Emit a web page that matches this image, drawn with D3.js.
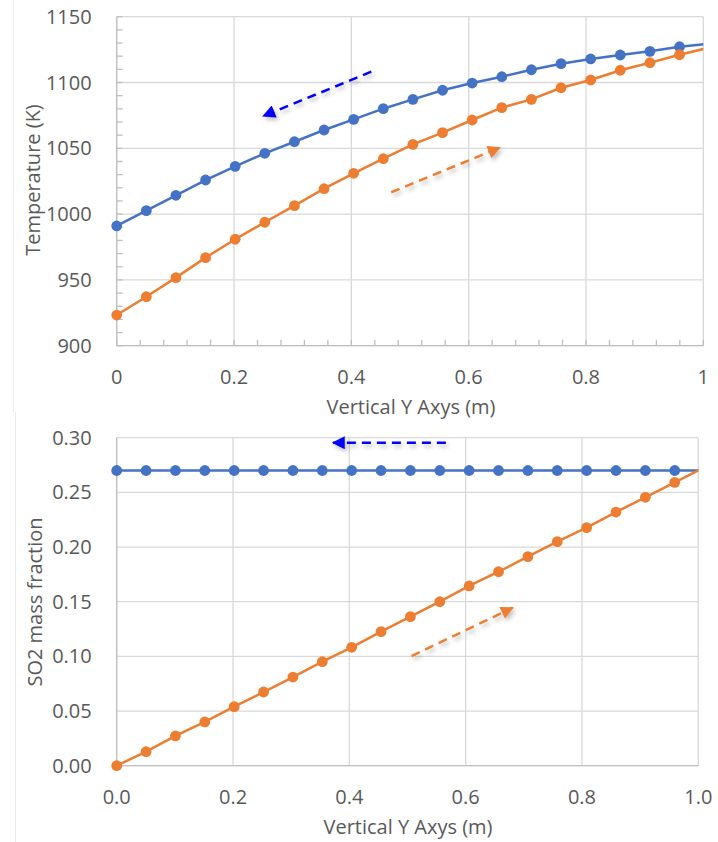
<!DOCTYPE html>
<html>
<head>
<meta charset="utf-8">
<script src="https://cdn.jsdelivr.net/npm/d3@7"></script>
<style>
  body { margin: 0; background: #fff; }
  text { font-family: "Open Sans", "Noto Sans", sans-serif; fill: #595959; }
</style>
</head>
<body>
<svg id="chart" width="718" height="842"></svg>
<script>
// positions along the column (m)
const xPos = [0, 0.0505, 0.101, 0.1515, 0.202, 0.2525, 0.303, 0.3535, 0.404, 0.4545, 0.505,
  0.5555, 0.606, 0.6565, 0.707, 0.7575, 0.808, 0.8585, 0.909, 0.9595, 1.01]

// temperature (K)
const tempDown = [991.0, 1002.6, 1014.3, 1025.9, 1036.3, 1046.2, 1055.0, 1063.9, 1072.0, 1080.1, 1087.2,
  1094.1, 1099.6, 1104.4, 1109.7, 1114.3, 1117.9, 1120.9, 1123.7, 1127.2, 1129.5]
const tempUp = [923.3, 937.2, 951.7, 966.9, 980.9, 993.8, 1006.4, 1019.3, 1031.0, 1042.1, 1053.0,
  1061.9, 1071.5, 1080.9, 1087.2, 1096.0, 1101.9, 1109.3, 1115.0, 1121.1, 1126.5]

// SO2 mass fraction
const so2Down = [0.27, 0.27, 0.27, 0.27, 0.27, 0.27, 0.27, 0.27, 0.27, 0.27, 0.27,
  0.27, 0.27, 0.27, 0.27, 0.27, 0.27, 0.27, 0.27, 0.27, 0.27]
const so2Up = [0, 0.0128, 0.0272, 0.040, 0.054, 0.0674, 0.0811, 0.0951, 0.1083, 0.1226, 0.1363,
  0.150, 0.1644, 0.1774, 0.1912, 0.2049, 0.2177, 0.232, 0.2455, 0.2592, 0.2727]

// tick values
const xTicks = [0, 0.2, 0.4, 0.6, 0.8, 1]
const tempTicks = [900, 950, 1000, 1050, 1100, 1150]
const so2Ticks = [0, 0.05, 0.1, 0.15, 0.2, 0.25, 0.3]

// flow direction arrows, in data units [x, y]
const tempArrows = [
  { from: [0.434, 1108.2], to: [0.25, 1074.5], color: '#0000ff' },
  { from: [0.468, 1016.6], to: [0.653, 1050.5], color: '#ed7d31' }
]
const so2Arrows = [
  { from: [0.566, 0.2954], to: [0.372, 0.2954], color: '#0000ff' },
  { from: [0.507, 0.1003], to: [0.681, 0.1445], color: '#ed7d31' }
]

const BLUE = '#4472c4'
const ORANGE = '#ed7d31'

const svg = d3.select('#chart')

const defs = svg.append('defs')
// user-space region so the horizontal arrow (zero-height bbox) still renders
const shadow = defs.append('filter').attr('id', 'shadow')
  .attr('filterUnits', 'userSpaceOnUse')
  .attr('x', 0).attr('y', 0).attr('width', 718).attr('height', 842)
shadow.append('feDropShadow')
  .attr('dx', 2).attr('dy', 3).attr('stdDeviation', 2)
  .attr('flood-color', '#000').attr('flood-opacity', 0.25)

;['#0000ff', '#ed7d31'].forEach(function (c, i) {
  defs.append('marker')
    .attr('id', 'head' + i)
    .attr('markerUnits', 'userSpaceOnUse')
    .attr('viewBox', '0 0 10 10')
    .attr('refX', 9).attr('refY', 5)
    .attr('markerWidth', 15).attr('markerHeight', 13)
    .attr('orient', 'auto')
    .append('path')
    .attr('d', 'M0,0L10,5L0,10Z')
    .attr('fill', c)
})

// faint frame edges of the pasted charts
svg.append('line').attr('x1', 13.5).attr('x2', 13.5).attr('y1', 0).attr('y2', 412)
  .attr('stroke', '#ececec')
svg.append('line').attr('x1', 15.5).attr('x2', 15.5).attr('y1', 412).attr('y2', 842)
  .attr('stroke', '#ececec')

function drawPanel(cfg) {
  const x = d3.scaleLinear().domain([0, 1]).range([cfg.left, cfg.right])
  const y = d3.scaleLinear().domain(cfg.yDomain).range([cfg.bottom, cfg.top])
  const g = svg.append('g')

  // grid
  g.selectAll('.vgrid').data(xTicks).enter().append('line')
    .attr('x1', (d) => x(d)).attr('x2', (d) => x(d))
    .attr('y1', cfg.top).attr('y2', cfg.bottom)
    .attr('stroke', '#d9d9d9').attr('stroke-width', 1.3)
  g.selectAll('.hgrid').data(cfg.yTicks).enter().append('line')
    .attr('x1', cfg.left).attr('x2', cfg.right)
    .attr('y1', (d) => y(d)).attr('y2', (d) => y(d))
    .attr('stroke', '#d9d9d9').attr('stroke-width', 1.3)

  // axis lines
  g.append('line').attr('x1', cfg.left).attr('x2', cfg.left)
    .attr('y1', cfg.top).attr('y2', cfg.bottom)
    .attr('stroke', '#bfbfbf').attr('stroke-width', 1.3)
  g.append('line').attr('x1', cfg.left).attr('x2', cfg.right)
    .attr('y1', cfg.bottom).attr('y2', cfg.bottom)
    .attr('stroke', '#bfbfbf').attr('stroke-width', 1.3)

  if (cfg.minor) {
    const xm = d3.range(0, 1.0001, 0.04)
    g.selectAll('.xm').data(xm).enter().append('line')
      .attr('x1', (d) => x(d)).attr('x2', (d) => x(d))
      .attr('y1', cfg.bottom).attr('y2', cfg.bottom - 6)
      .attr('stroke', '#bfbfbf').attr('stroke-width', 1.3)
    const ym = d3.range(cfg.yDomain[0], cfg.yDomain[1] + 0.001, 10)
    g.selectAll('.ym').data(ym).enter().append('line')
      .attr('x1', cfg.left).attr('x2', cfg.left + 6)
      .attr('y1', (d) => y(d)).attr('y2', (d) => y(d))
      .attr('stroke', '#bfbfbf').attr('stroke-width', 1.3)
  }

  // tick labels
  g.selectAll('.ylab').data(cfg.yTicks).enter().append('text')
    .attr('x', cfg.left - 25).attr('y', (d) => y(d))
    .attr('dy', '0.35em').attr('text-anchor', 'end')
    .style('font-size', '20px')
    .text(cfg.yFormat)
  g.selectAll('.xlab').data(xTicks).enter().append('text')
    .attr('x', (d) => x(d)).attr('y', cfg.bottom + 31)
    .attr('dy', '0.35em').attr('text-anchor', 'middle')
    .style('font-size', '20px')
    .text(cfg.xFormat)

  // axis titles
  g.append('text')
    .attr('x', cfg.xTitleX).attr('y', cfg.bottom + 61)
    .attr('dy', '0.35em').attr('text-anchor', 'middle')
    .style('font-size', '20px')
    .text('Vertical Y Axys (m)')
  g.append('text')
    .attr('transform', 'translate(' + cfg.yTitleX + ',' + cfg.yTitleY + ')rotate(-90)')
    .attr('dy', '0.35em').attr('text-anchor', 'middle')
    .style('font-size', '20px')
    .text(cfg.yTitle)

  // series, clipped to the plot area
  const clipId = 'clip' + cfg.id
  defs.append('clipPath').attr('id', clipId).append('rect')
    .attr('x', cfg.left).attr('y', cfg.top - 10)
    .attr('width', cfg.right - cfg.left).attr('height', cfg.bottom - cfg.top + 20)

  const line = d3.line().x((d) => x(d[0])).y((d) => y(d[1]))
  cfg.series.forEach(function (s) {
    const pts = xPos.map((v, i) => [v, s.values[i]])
    g.append('path')
      .attr('clip-path', 'url(#' + clipId + ')')
      .attr('d', line(pts))
      .attr('fill', 'none').attr('stroke', s.color).attr('stroke-width', 2.5)
    g.selectAll(null).data(pts.filter((p) => p[0] <= 1)).enter().append('circle')
      .attr('cx', (d) => x(d[0])).attr('cy', (d) => y(d[1]))
      .attr('r', 5.4).attr('fill', s.color)
  })

  // direction arrows
  cfg.arrows.forEach(function (a) {
    g.append('line')
      .attr('x1', x(a.from[0])).attr('y1', y(a.from[1]))
      .attr('x2', x(a.to[0])).attr('y2', y(a.to[1]))
      .attr('stroke', a.color).attr('stroke-width', 2.5)
      .attr('stroke-dasharray', '9,6')
      .attr('marker-end', 'url(#head' + (a.color === '#0000ff' ? 0 : 1) + ')')
      .attr('filter', 'url(#shadow)')
  })
}

drawPanel({
  id: 'temp',
  left: 116.7, right: 703.3, top: 16.7, bottom: 345.7,
  yDomain: [900, 1150], yTicks: tempTicks,
  yFormat: (d) => d, xFormat: (d) => d,
  yTitle: 'Temperature (K)', yTitleX: 33, yTitleY: 180, xTitleX: 411,
  minor: true,
  series: [{ values: tempDown, color: BLUE }, { values: tempUp, color: ORANGE }],
  arrows: tempArrows
})

drawPanel({
  id: 'so2',
  left: 116.7, right: 698.3, top: 437.7, bottom: 765.7,
  yDomain: [0, 0.3], yTicks: so2Ticks,
  yFormat: d3.format('.2f'), xFormat: d3.format('.1f'),
  yTitle: 'SO2 mass fraction', yTitleX: 35, yTitleY: 602, xTitleX: 408,
  minor: false,
  series: [{ values: so2Down, color: BLUE }, { values: so2Up, color: ORANGE }],
  arrows: so2Arrows
})
</script>
</body>
</html>
